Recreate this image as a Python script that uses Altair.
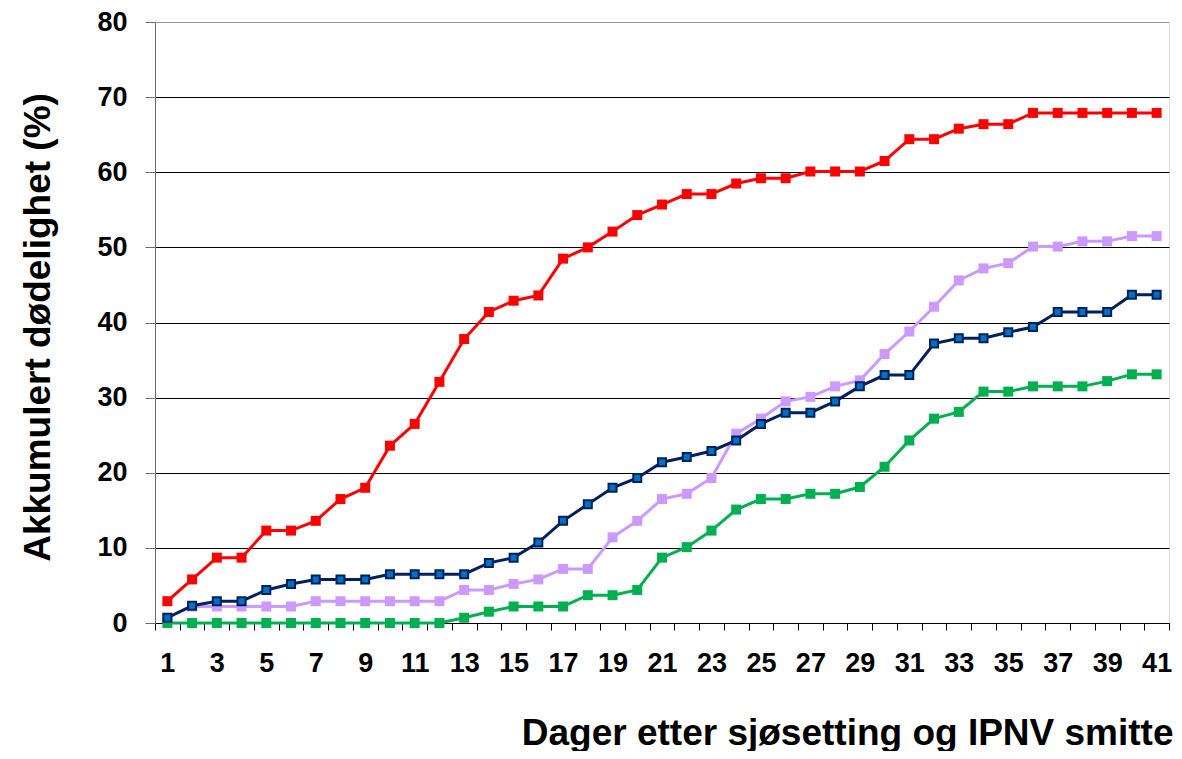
import altair as alt
import pandas as pd

days = list(range(1, 42))

red = [2.9, 5.8, 8.7, 8.7, 12.3, 12.3, 13.6, 16.5, 18.0, 23.6, 26.5, 32.1, 37.8, 41.4,
       42.9, 43.6, 48.5, 50.0, 52.1, 54.3, 55.7, 57.1, 57.1, 58.5, 59.2, 59.2, 60.1,
       60.1, 60.1, 61.5, 64.4, 64.4, 65.8, 66.4, 66.4, 67.9, 67.9, 67.9, 67.9, 67.9, 67.9]
navy = [0.7, 2.3, 2.9, 2.9, 4.4, 5.2, 5.8, 5.8, 5.8, 6.5, 6.5, 6.5, 6.5, 8.0,
        8.7, 10.7, 13.6, 15.8, 18.0, 19.3, 21.4, 22.1, 22.9, 24.3, 26.5, 28.0, 28.0,
        29.5, 31.5, 33.0, 33.0, 37.2, 37.9, 37.9, 38.7, 39.4, 41.4, 41.4, 41.4, 43.7, 43.7]
lavender = [0.7, 2.2, 2.2, 2.2, 2.2, 2.2, 2.9, 2.9, 2.9, 2.9, 2.9, 2.9, 4.4, 4.4,
            5.2, 5.8, 7.2, 7.2, 11.4, 13.6, 16.5, 17.2, 19.3, 25.2, 27.2, 29.5, 30.1,
            31.5, 32.3, 35.8, 38.8, 42.1, 45.6, 47.2, 47.9, 50.1, 50.1, 50.8, 50.8, 51.5, 51.5]
green = [0, 0, 0, 0, 0, 0, 0, 0, 0, 0, 0, 0, 0.7, 1.5,
         2.2, 2.2, 2.2, 3.7, 3.7, 4.4, 8.7, 10.1, 12.3, 15.1, 16.5, 16.5, 17.2,
         17.2, 18.1, 20.8, 24.3, 27.2, 28.1, 30.8, 30.8, 31.5, 31.5, 31.5, 32.2, 33.1, 33.1]

x_label_days = list(range(1, 42, 2))
x_tick_bounds = [d + 0.5 for d in range(0, 42)]
y_ticks = [0, 10, 20, 30, 40, 50, 60, 70, 80]

x_title = "Dager etter sjøsetting og IPNV smitte"
y_title = "Akkumulert dødelighet (%)"

# name, values, line color, marker fill, marker stroke
series = [
    ("gronn", green, "#00B050", "#00B050", "#00B050"),
    ("lilla", lavender, "#CC99FF", "#CC99FF", "#CC99FF"),
    ("bla", navy, "#002060", "#0070C0", "#002060"),
    ("rod", red, "#FF0000", "#FF0000", "#FF0000"),
]

FONT = "Liberation Sans"
W = 1014
H = 601
xscale = alt.Scale(domain=[0.5, 41.5], nice=False, zero=False)
yscale = alt.Scale(domain=[0, 80], nice=False)

tick_axis = alt.Axis(orient="bottom", values=x_tick_bounds, labels=False, tickSize=7,
                     tickColor="#000000", domainColor="#000000", domainWidth=1,
                     grid=False, title=None)
label_axis = alt.Axis(orient="bottom", values=x_label_days, ticks=False, tickSize=0,
                      domain=False, grid=False, labelPadding=27,
                      labelFont=FONT, labelFontSize=27, labelFontWeight="bold",
                      labelColor="#000000", labelBaseline="top", labelFlush=False,
                      title=x_title, titleFont=FONT, titleFontSize=37,
                      titleFontWeight="bold", titleColor="#000000",
                      titleAnchor="end", titleAlign="right", titleX=W + 4,
                      titleY=121, titleBaseline="alphabetic")
y_axis = alt.Axis(values=y_ticks, grid=True,
                  gridColor={"condition": {"test": "datum.value == 80", "value": "#9a9a9a"},
                             "value": "#000000"},
                  gridWidth=1,
                  domainColor="#6b6b6b", tickColor="#6b6b6b", tickSize=10,
                  labelPadding=18, labelFont=FONT, labelFontSize=27,
                  labelFontWeight="bold", labelColor="#000000",
                  title=y_title, titleFont=FONT, titleFontSize=37,
                  titleFontWeight="bold", titleColor="#000000",
                  titleX=-106, titleY=305, titleBaseline="alphabetic")

layers = []
for i, (name, vals, lc, mf, ms) in enumerate(series):
    df = pd.DataFrame({"day": days, "value": vals, "series": name})
    base = alt.Chart(df)
    if i == 0:
        xa = tick_axis
    elif i == 1:
        xa = label_axis
    else:
        xa = None
    line = base.mark_line(color=lc, strokeWidth=3).encode(
        x=alt.X("day:Q", scale=xscale, axis=xa),
        y=alt.Y("value:Q", scale=yscale, axis=y_axis),
    )
    pts = base.mark_point(shape="square", filled=True, fill=mf, stroke=ms,
                          strokeWidth=2 if name == "bla" else 0,
                          size=64 if name == "bla" else 100, opacity=1).encode(
        x=alt.X("day:Q", scale=xscale, axis=None),
        y=alt.Y("value:Q", scale=yscale, axis=y_axis),
    )
    layers += [line, pts]

chart = alt.layer(*layers).resolve_axis(x="independent").properties(
    width=W, height=H,
    autosize=alt.AutoSizeParams(type="none"),
    padding={"left": 147, "top": 14, "right": 5, "bottom": 128},
).configure_view(stroke="#9a9a9a", strokeWidth=1).configure(background="white")

chart.save("out.html", embed_options={"renderer": "svg", "actions": False})
